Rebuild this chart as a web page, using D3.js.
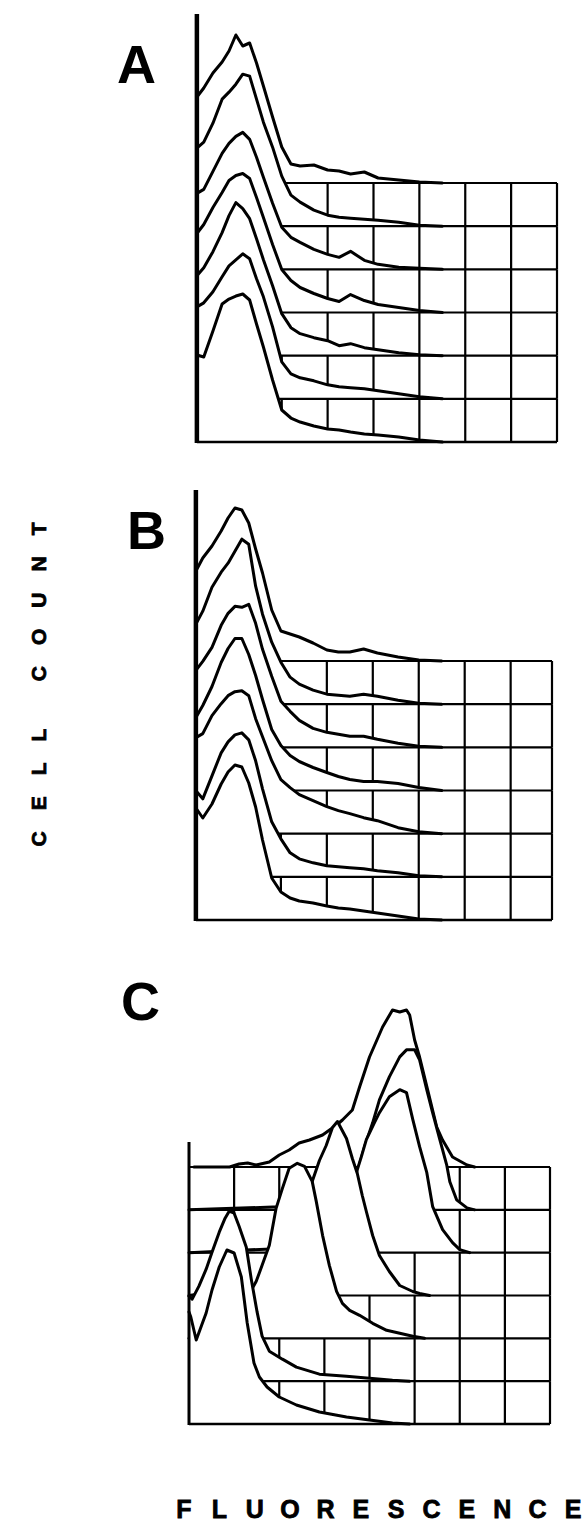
<!DOCTYPE html>
<html>
<head>
<meta charset="utf-8">
<script src="https://cdnjs.cloudflare.com/ajax/libs/d3/7.8.5/d3.min.js"></script>
<style>
body { margin: 0; background: #fff; }
svg { display: block; }
text { font-family: "Liberation Sans", Arial, sans-serif; font-weight: bold; fill: #000; }
</style>
</head>
<body>
<div class="canvas"></div>
<script>
var width = 584, height = 1534;

// fluorescence channel positions (grid units) used by panels A and B
var fluorAB = [0.15, 0.3, 0.5, 0.7, 0.85, 1.0, 1.15, 1.3, 1.45, 1.6, 1.8, 2.0, 2.2, 2.4, 2.7, 3.0, 3.25, 3.5, 3.8, 4.1, 4.55, 5.0, 5.5];

// cell counts, back histogram first
var countsA = [
	[86, 95, 110, 121, 132, 148, 137, 140, 120, 97, 66, 36, 19, 17, 18, 13, 12, 9, 11, 5, 3, 1, 0],
	[78, 84, 103, 127, 134, 142, 152, 150, 127, 104, 79, 50, 31, 24, 16, 11, 9, 8, 7, 6, 4, 1, 0],
	[76, 80, 98, 116, 126, 133, 137, 130, 112, 92, 66, 42, 32, 27, 20, 15, 12, 18, 9, 5, 2, 1, 0],
	[79, 88, 105, 120, 132, 137, 139, 134, 115, 95, 68, 43, 32, 25, 19, 14, 11, 18, 12, 8, 5, 2, 0],
	[80, 88, 104, 123, 140, 153, 147, 137, 117, 96, 70, 42, 28, 22, 18, 15, 10, 12, 8, 6, 3, 1, 0],
	[92, 96, 107, 122, 133, 139, 145, 140, 120, 102, 72, 37, 25, 21, 18, 14, 12, 11, 10, 8, 5, 2, 0],
	[87, 85, 111, 138, 143, 146, 148, 142, 118, 95, 62, 32, 24, 20, 16, 13, 12, 10, 8, 7, 5, 2, 0]
];

var countsB = [
	[90, 103, 115, 130, 143, 153, 151, 138, 112, 88, 51, 30, 27, 24, 18, 11, 9, 9, 12, 8, 4, 1, 0],
	[80, 93, 117, 132, 141, 153, 165, 160, 118, 90, 62, 42, 27, 20, 14, 10, 9, 8, 10, 8, 4, 1, 0],
	[77, 86, 100, 122, 134, 141, 140, 143, 124, 98, 71, 46, 36, 27, 19, 15, 13, 11, 11, 8, 4, 1, 0],
	[73, 85, 104, 128, 142, 152, 152, 136, 115, 91, 61, 45, 35, 29, 23, 18, 14, 11, 9, 9, 7, 3, 0],
	[96, 100, 118, 130, 138, 142, 143, 138, 115, 97, 73, 54, 46, 39, 33, 27, 23, 20, 16, 13, 6, 2, 0],
	[86, 78, 101, 124, 135, 142, 144, 137, 116, 88, 55, 38, 24, 18, 14, 11, 10, 9, 8, 6, 4, 1, 0],
	[112, 102, 116, 136, 148, 155, 153, 137, 113, 80, 42, 28, 22, 19, 17, 14, 12, 11, 9, 7, 4, 1, 0]
];

// panel C: [fluorescence, count] pairs, back histogram first
var curvesC = [
	[[0.11, 0], [0.9, 0], [1.11, 3], [1.3, 4], [1.49, 2], [1.78, 5], [2.0, 12], [2.22, 17], [2.44, 24], [2.67, 27], [2.96, 32], [3.27, 42], [3.4, 47], [3.62, 57], [3.78, 80], [4.0, 110], [4.29, 140], [4.51, 157], [4.67, 155], [4.82, 157], [4.89, 152], [5.0, 127], [5.11, 110], [5.29, 77], [5.49, 40], [5.62, 27], [5.84, 10], [6.16, 2], [6.33, 0]],
	[[0, 0], [2.0, 3], [2.44, 5], [2.89, 8], [3.33, 15], [3.71, 35], [3.89, 63], [4.07, 87], [4.22, 110], [4.44, 133], [4.67, 153], [4.82, 160], [5.0, 160], [5.11, 150], [5.27, 120], [5.4, 97], [5.56, 70], [5.71, 45], [5.78, 28], [5.93, 10], [6.16, 2], [6.33, 0]],
	[[0, 0], [2.44, 5], [2.89, 10], [3.33, 20], [3.56, 50], [3.73, 83], [3.82, 96], [3.93, 113], [4.11, 130], [4.22, 140], [4.44, 156], [4.67, 163], [4.82, 160], [4.96, 133], [5.11, 106], [5.27, 80], [5.4, 46], [5.62, 23], [5.84, 10], [6.0, 3], [6.22, 0]],
	[[0, 0], [1.56, 10], [2.0, 25], [2.22, 40], [2.44, 70], [2.73, 114], [2.89, 135], [3.04, 150], [3.18, 168], [3.29, 174], [3.49, 157], [3.62, 137], [3.73, 122], [3.84, 100], [3.93, 84], [4.07, 60], [4.22, 40], [4.44, 24], [4.67, 10], [4.96, 4], [5.11, 2], [5.33, 0]],
	[[0, 0], [0.22, 5], [0.67, 12], [1.0, 22], [1.22, 35], [1.49, 57], [1.62, 73], [1.78, 93], [1.93, 130], [2.07, 150], [2.22, 170], [2.4, 175], [2.56, 172], [2.73, 157], [2.82, 137], [2.96, 103], [3.11, 73], [3.27, 47], [3.4, 35], [3.56, 28], [3.78, 23], [4.07, 15], [4.38, 8], [4.67, 5], [4.96, 2], [5.22, 0]],
	[[0, 85], [0.07, 82], [0.22, 95], [0.38, 112], [0.51, 129], [0.67, 149], [0.8, 163], [0.89, 170], [1.0, 168], [1.11, 155], [1.27, 134], [1.38, 102], [1.51, 69], [1.62, 45], [1.78, 30], [2.07, 22], [2.38, 14], [2.89, 7], [3.49, 5], [4.51, 1], [4.89, 0]],
	[[0, 112], [0.04, 107], [0.16, 84], [0.29, 100], [0.38, 111], [0.51, 134], [0.67, 157], [0.84, 174], [1.0, 171], [1.16, 147], [1.29, 101], [1.44, 61], [1.56, 47], [1.73, 37], [2.0, 27], [2.38, 19], [2.89, 12], [3.49, 7], [4.51, 1], [4.89, 0]]
];

var panelLabels = ["A", "B", "C"];
var yTitle = "CELL COUNT";
var xTitle = "FLUORESCENCE";

function zipCurve(xs, ys) {
	return ys.map(function(v, i) { return [xs[i], v]; });
}

var panels = [
	{ curves: countsA.map(function(c) { return zipCurve(fluorAB, c); }),
	  x0: 190, x1: 557, xMax: 8, axisAt: 0.15, top: 14, row0: 183, row6: 442, axisW: 4.5, lx: 117, ly: 83 },
	{ curves: countsB.map(function(c) { return zipCurve(fluorAB, c); }),
	  x0: 189, x1: 552, xMax: 7.9, axisAt: 0.15, top: 490, row0: 661, row6: 920, axisW: 4.5, lx: 127, ly: 549 },
	{ curves: curvesC,
	  x0: 189, x1: 550, xMax: 8, axisAt: 0, top: 1142, row0: 1167, row6: 1424, axisW: 3, lx: 121, ly: 1020 }
];

var svg = d3.select(".canvas").append("svg")
	.attr("width", width)
	.attr("height", height)
	.style("background", "#fff");

// counts -> pixel height above a histogram's own baseline
var yCount = d3.scaleLinear().domain([0, 200]).range([0, 200]);

panels.forEach(function(p, pi) {
	var x = d3.scaleLinear().domain([0, p.xMax]).range([p.x0, p.x1]);
	var depth = d3.scaleLinear().domain([0, 6]).range([p.row0, p.row6]);
	var cols = d3.range(1, Math.floor(p.xMax) + 1).filter(function(k) { return k <= p.xMax; });
	if (cols[cols.length - 1] !== p.xMax) cols.push(p.xMax);

	var g = svg.append("g").attr("class", "panel");

	// painter's order: back histogram first, each one hides the floor behind it
	p.curves.forEach(function(c, i) {
		var base = depth(i);
		var area = d3.area()
			.x(function(d) { return x(d[0]); })
			.y0(base)
			.y1(function(d) { return base - yCount(d[1]); });
		var line = d3.line()
			.x(function(d) { return x(d[0]); })
			.y(function(d) { return base - yCount(d[1]); });

		g.append("path")
			.attr("d", area(c))
			.attr("fill", "#fff");
		g.append("path")
			.attr("d", line(c))
			.attr("fill", "none")
			.attr("stroke", "#000")
			.attr("stroke-width", 3)
			.attr("stroke-linejoin", "round")
			.attr("stroke-linecap", "round");

		// floor row in front of this histogram
		g.append("line")
			.attr("x1", x(p.axisAt)).attr("x2", x(p.xMax))
			.attr("y1", base).attr("y2", base)
			.attr("stroke", "#000")
			.attr("stroke-width", i === 6 ? 2.6 : 2.2);
		if (i < 6) {
			g.selectAll(null).data(cols).enter().append("line")
				.attr("x1", function(k) { return x(k); })
				.attr("x2", function(k) { return x(k); })
				.attr("y1", base)
				.attr("y2", depth(i + 1))
				.attr("stroke", "#000")
				.attr("stroke-width", 2.2);
		}
	});

	// cell count axis
	g.append("line")
		.attr("x1", x(p.axisAt)).attr("x2", x(p.axisAt))
		.attr("y1", p.top).attr("y2", p.row6 + 1)
		.attr("stroke", "#000")
		.attr("stroke-width", p.axisW);

	g.append("text")
		.attr("x", p.lx)
		.attr("y", p.ly)
		.style("font-size", "54px")
		.text(panelLabels[pi]);
});

svg.append("text")
	.attr("transform", "translate(46,674) rotate(-90)")
	.attr("text-anchor", "middle")
	.style("font-size", "21px")
	.style("letter-spacing", "21px")
	.style("stroke", "#000")
	.style("stroke-width", "0.8px")
	.text(yTitle);

// spaced-out x title, one glyph per slot so the last letter stays inside
var xLetters = xTitle.split("");
var letterX = d3.scalePoint().domain(d3.range(xLetters.length)).range([184, 573]);
svg.append("text")
	.attr("y", 1518)
	.attr("text-anchor", "middle")
	.style("font-size", "25px")
	.style("stroke", "#000")
	.style("stroke-width", "0.8px")
	.selectAll("tspan").data(xLetters).enter().append("tspan")
	.attr("x", function(d, i) { return letterX(i); })
	.text(function(d) { return d; });
</script>
</body>
</html>
